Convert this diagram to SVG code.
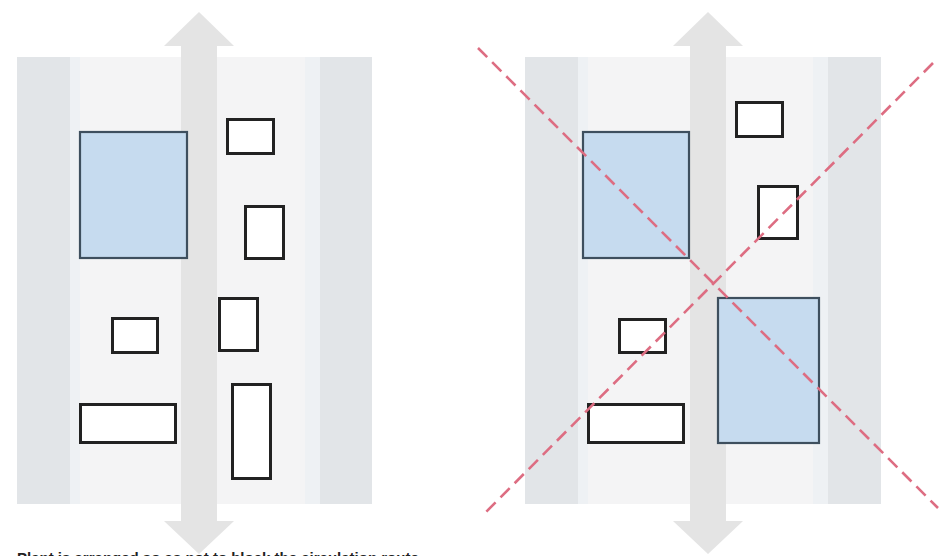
<svg xmlns="http://www.w3.org/2000/svg" width="939" height="556" viewBox="0 0 939 556">
<style>
.strip{fill:#e2e5e8}
.mid{fill:#f4f4f5}
.edge{fill:#eef1f4}
.flow{fill:#e4e4e4}
.item{fill:#ffffff;stroke:#222;stroke-width:3}
.big{fill:#c6dbef;stroke:#3e4f5e;stroke-width:2.2}
.cross{fill:none;stroke:#dd6d82;stroke-width:2.6;stroke-dasharray:13 7}
.cap{font-family:"Liberation Sans",Arial,sans-serif;font-weight:bold;font-size:15px;fill:#222}
</style>
<g id="panel-left">
  <rect class="mid" x="17" y="57" width="355" height="447"/>
  <rect class="strip" x="17" y="57" width="53" height="447"/>
  <rect class="edge" x="70" y="57" width="10" height="447"/>
  <rect class="edge" x="305" y="57" width="15" height="447"/>
  <rect class="strip" x="320" y="57" width="52" height="447"/>
</g>
<g id="panel-right">
  <rect class="mid" x="525" y="57" width="356" height="447"/>
  <rect class="strip" x="525" y="57" width="53" height="447"/>
  <rect class="edge" x="578" y="57" width="10" height="447"/>
  <rect class="edge" x="813" y="57" width="15" height="447"/>
  <rect class="strip" x="828" y="57" width="53" height="447"/>
</g>
<g id="connectors">
  <path id="flow-left" class="flow" d="M199,12 L234,46 L217,46 L217,521 L234,521 L199,554 L164,521 L181,521 L181,46 L164,46 Z"/>
  <path id="flow-right" class="flow" d="M708,12 L743,46 L726,46 L726,521 L743,521 L708,554 L673,521 L690,521 L690,46 L673,46 Z"/>
</g>
<g id="left-items">
  <rect id="l-big" class="big" x="80" y="132" width="107" height="126"/>
  <rect id="l-a" class="item" x="227.5" y="119.5" width="46" height="34"/>
  <rect id="l-b" class="item" x="245.5" y="206.5" width="38" height="52"/>
  <rect id="l-c" class="item" x="112.5" y="318.5" width="45" height="34"/>
  <rect id="l-d" class="item" x="219.5" y="298.5" width="38" height="52"/>
  <rect id="l-e" class="item" x="80.5" y="404.5" width="95" height="38"/>
  <rect id="l-f" class="item" x="232.5" y="384.5" width="38" height="94"/>
</g>
<g id="right-items">
  <rect id="r-big1" class="big" x="583" y="132" width="106" height="126"/>
  <rect id="r-a" class="item" x="736.5" y="102.5" width="46" height="34"/>
  <rect id="r-b" class="item" x="758.5" y="186.5" width="39" height="52"/>
  <rect id="r-c" class="item" x="619.5" y="319.5" width="46" height="33"/>
  <rect id="r-e" class="item" x="588.5" y="404.5" width="95" height="38"/>
  <rect id="r-big2" class="big" x="718" y="298" width="101" height="145"/>
</g>
<g id="cross">
  <line class="cross" x1="478" y1="48" x2="938" y2="508"/>
  <line class="cross" x1="933" y1="63" x2="483" y2="515"/>
</g>
<text class="cap" x="17" y="563">Plant is arranged so as not to block the circulation route</text>
</svg>
